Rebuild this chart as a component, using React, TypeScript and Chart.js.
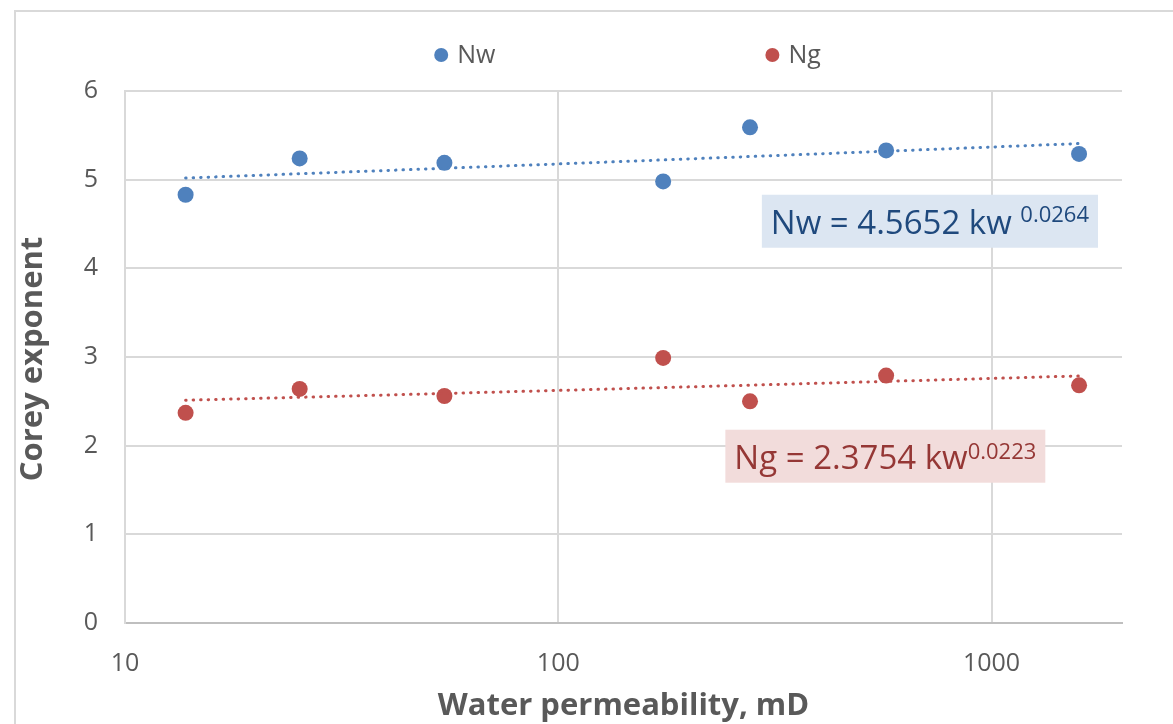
import React, { useEffect, useRef } from "react";
import { Chart, registerables } from "chart.js";

Chart.register(...registerables);

// Water permeability of each core sample, mD
const permeability = [13.8, 25.3, 54.6, 174.6, 277, 571, 1592];
// Corey exponent for water
const nwValues = [4.83, 5.24, 5.19, 4.98, 5.59, 5.33, 5.29];
// Corey exponent for gas
const ngValues = [2.37, 2.64, 2.56, 2.99, 2.5, 2.79, 2.68];

const xTicks = [10, 100, 1000];
const yTicks = [0, 1, 2, 3, 4, 5, 6];

const seriesNames = ["Nw", "Ng"];
const nwEquation = { main: "Nw = 4.5652 kw ", sup: "0.0264" };
const ngEquation = { main: "Ng = 2.3754 kw", sup: "0.0223" };

const BLUE = "#4F81BD";
const RED = "#C0504D";
const FONT = "'Open Sans', sans-serif";

// Least-squares power-law fit y = a * x^b, done in log-log space
function powerFit(xs: number[], ys: number[]) {
  const lx = xs.map(Math.log);
  const ly = ys.map(Math.log);
  const n = xs.length;
  const mx = lx.reduce((s, v) => s + v, 0) / n;
  const my = ly.reduce((s, v) => s + v, 0) / n;
  let sxy = 0;
  let sxx = 0;
  for (let i = 0; i < n; i++) {
    sxy += (lx[i] - mx) * (ly[i] - my);
    sxx += (lx[i] - mx) * (lx[i] - mx);
  }
  const b = sxy / sxx;
  const a = Math.exp(my - b * mx);
  return { a, b };
}

// Sample the fitted curve between the first and last sample
function trendPoints(xs: number[], ys: number[]) {
  const { a, b } = powerFit(xs, ys);
  const lo = Math.min(...xs);
  const hi = Math.max(...xs);
  const steps = 40;
  const pts: { x: number; y: number }[] = [];
  for (let i = 0; i <= steps; i++) {
    const x = lo * Math.pow(hi / lo, i / steps);
    pts.push({ x, y: a * Math.pow(x, b) });
  }
  return pts;
}

const frameAndLabels = {
  id: "frameAndLabels",
  beforeDraw(chart: any) {
    const { ctx } = chart;
    ctx.save();
    ctx.fillStyle = "#ffffff";
    ctx.fillRect(0, 0, chart.width, chart.height);
    ctx.strokeStyle = "#D9D9D9";
    ctx.lineWidth = 2;
    ctx.beginPath();
    ctx.moveTo(chart.width + 2, 11);
    ctx.lineTo(15, 11);
    ctx.lineTo(15, chart.height + 2);
    ctx.stroke();
    ctx.restore();
  },
  afterDatasetsDraw(chart: any) {
    const { ctx, chartArea, scales } = chart;
    const xs = scales.x;
    const ys = scales.y;
    ctx.save();

    // equation boxes
    const drawEq = (
      eq: { main: string; sup: string },
      atX: number,
      atY: number,
      fill: string,
      color: string,
      supRaise: number
    ) => {
      const left = xs.getPixelForValue(atX);
      const top = ys.getPixelForValue(atY);
      const mainFont = `33px ${FONT}`;
      const supFont = `22px ${FONT}`;
      ctx.font = mainFont;
      const wMain = ctx.measureText(eq.main).width;
      ctx.font = supFont;
      const wSup = ctx.measureText(eq.sup).width;
      const pad = 9;
      const h = 53;
      ctx.fillStyle = fill;
      ctx.fillRect(left, top, wMain + wSup + pad * 2, h);
      ctx.fillStyle = color;
      ctx.textBaseline = "alphabetic";
      ctx.textAlign = "left";
      const base = top + 39;
      ctx.font = mainFont;
      ctx.fillText(eq.main, left + pad, base);
      ctx.font = supFont;
      ctx.fillText(eq.sup, left + pad + wMain, base - supRaise);
    };
    drawEq(nwEquation, 295, 4.83, "#DCE6F2", "#1F497D", 12);
    drawEq(ngEquation, 243, 2.18, "#F2DCDB", "#953735", 10);

    // legend
    ctx.font = `25px ${FONT}`;
    ctx.textBaseline = "middle";
    ctx.textAlign = "left";
    const colors = [BLUE, RED];
    const r = 7;
    const gapText = 9;
    const gapItem = 270;
    const widths = seriesNames.map((n) => 2 * r + gapText + ctx.measureText(n).width);
    const total = widths.reduce((s, v) => s + v, 0) + gapItem * (widths.length - 1);
    let x = (chartArea.left + chartArea.right) / 2 + 4 - total / 2;
    const y = 55;
    seriesNames.forEach((name, i) => {
      ctx.fillStyle = colors[i];
      ctx.beginPath();
      ctx.arc(x + r, y, r, 0, Math.PI * 2);
      ctx.fill();
      ctx.fillStyle = "#595959";
      ctx.fillText(name, x + 2 * r + gapText, y + 1);
      x += widths[i] + gapItem;
    });

    // axis titles
    ctx.fillStyle = "#595959";
    ctx.font = `bold 31px ${FONT}`;
    ctx.textAlign = "center";
    ctx.textBaseline = "middle";
    ctx.fillText("Water permeability, mD", (chartArea.left + chartArea.right) / 2, 706);
    ctx.translate(33, (chartArea.top + chartArea.bottom) / 2 + 2);
    ctx.rotate(-Math.PI / 2);
    ctx.fillText("Corey exponent", 0, 0);
    ctx.restore();
  },
};

export default function App() {
  const canvasRef = useRef<HTMLCanvasElement | null>(null);

  useEffect(() => {
    const canvas = canvasRef.current;
    if (!canvas) return;
    const chart = new Chart(canvas, {
      type: "scatter",
      data: {
        datasets: [
          {
            type: "line",
            label: "Nw trend",
            data: trendPoints(permeability, nwValues),
            borderColor: BLUE,
            borderWidth: 3,
            borderDash: [0.5, 7],
            borderCapStyle: "round",
            pointRadius: 0,
            fill: false,
            order: 0,
          },
          {
            type: "line",
            label: "Ng trend",
            data: trendPoints(permeability, ngValues),
            borderColor: RED,
            borderWidth: 3,
            borderDash: [0.5, 7],
            borderCapStyle: "round",
            pointRadius: 0,
            fill: false,
            order: 0,
          },
          {
            label: seriesNames[0],
            data: permeability.map((x, i) => ({ x, y: nwValues[i] })),
            backgroundColor: BLUE,
            borderWidth: 0,
            pointRadius: 8,
            order: 1,
          },
          {
            label: seriesNames[1],
            data: permeability.map((x, i) => ({ x, y: ngValues[i] })),
            backgroundColor: RED,
            borderWidth: 0,
            pointRadius: 8,
            order: 1,
          },
        ],
      },
      options: {
        responsive: false,
        animation: false,
        layout: { padding: { top: 91, right: 51, left: 0, bottom: 0 } },
        plugins: {
          legend: { display: false },
          tooltip: { enabled: false },
        },
        scales: {
          x: {
            type: "logarithmic",
            min: 10,
            max: 2000,
            afterBuildTicks: (scale: any) => {
              scale.ticks = xTicks.map((v) => ({ value: v }));
            },
            afterFit: (scale: any) => {
              scale.height = 101;
            },
            ticks: {
              callback: (v: any) => String(v),
              color: "#595959",
              font: { family: FONT, size: 25 },
              padding: 26,
              maxRotation: 0,
              autoSkip: false,
            },
            grid: {
              color: (c: any) => (c.tick && c.tick.value === 10 ? "rgba(0,0,0,0)" : "#D9D9D9"),
              lineWidth: 2,
              drawTicks: false,
            },
            border: { color: "#BFBFBF", width: 2 },
          },
          y: {
            min: 0,
            max: 6,
            afterBuildTicks: (scale: any) => {
              scale.ticks = yTicks.map((v) => ({ value: v }));
            },
            afterFit: (scale: any) => {
              scale.width = 125;
            },
            ticks: {
              color: "#595959",
              font: { family: FONT, size: 25 },
              padding: 27,
            },
            grid: {
              color: (c: any) => (c.tick && c.tick.value === 0 ? "rgba(0,0,0,0)" : "#D9D9D9"),
              lineWidth: 2,
              drawTicks: false,
            },
            border: { color: "#D9D9D9", width: 2 },
          },
        },
      },
      plugins: [frameAndLabels],
    } as any);
    return () => chart.destroy();
  }, []);

  return (
    <div style={{ position: "fixed", left: 0, top: 0, width: 1173, height: 724, background: "#fff" }}>
      <canvas ref={canvasRef} width={1173} height={724} style={{ display: "block" }} />
    </div>
  );
}
